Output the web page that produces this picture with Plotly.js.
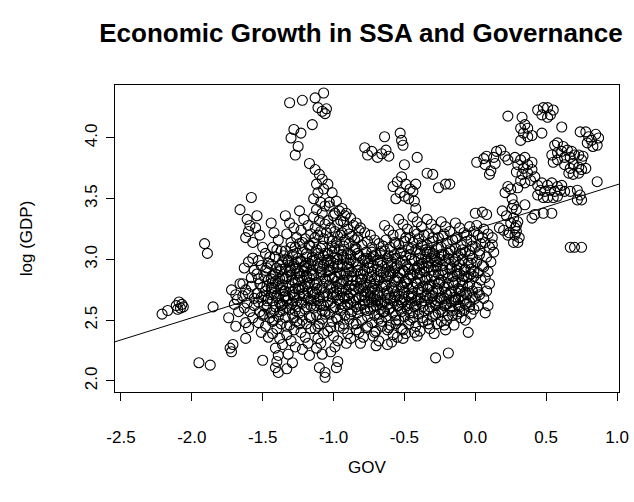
<!DOCTYPE html>
<html>
<head>
<meta charset="utf-8">
<script src="https://cdn.plot.ly/plotly-3.0.1.min.js"></script>
<style>
  html, body { margin: 0; padding: 0; background: #fff; }
  #chart { width: 634px; height: 502px; }
</style>
</head>
<body>
<div id="chart"></div>
<script>
// Country-year observations: [GOV, log(GDP)]
const leftTail = [
  [-2.21,2.55],[-2.17,2.58],[-2.11,2.62],[-2.09,2.65],[-2.08,2.60],[-2.07,2.63],[-2.06,2.61],[-2.10,2.59],
  [-1.91,3.13],[-1.89,3.05],[-1.85,2.61],[-1.95,2.15],[-1.87,2.13],
  [-1.74,2.52],[-1.73,2.27],[-1.72,2.24],[-1.72,2.75],[-1.70,2.63],[-1.69,2.71],[-1.68,2.67],[-1.67,2.57],
  [-1.66,3.41],[-1.66,2.80],[-1.69,2.45],[-1.71,2.30]
];

const govMinus16 = [
  [-1.58,3.51],[-1.61,3.33],[-1.59,3.28],[-1.55,3.26],[-1.60,3.23],[-1.62,3.18],[-1.57,3.14],[-1.60,2.98],
  [-1.57,3.01],[-1.56,2.91],[-1.63,2.93],[-1.64,2.80],[-1.62,2.75],[-1.60,2.72],[-1.58,2.78],[-1.56,2.68],
  [-1.61,2.64],[-1.63,2.60],[-1.59,2.57],[-1.57,2.52],[-1.62,2.48],[-1.60,2.44],[-1.62,2.35],[-1.56,2.62],
  [-1.64,2.70],[-1.58,2.85]
];

const govMinus15 = [
  [-1.54,3.36],[-1.52,3.20],[-1.50,3.10],[-1.48,3.05],[-1.53,2.99],[-1.51,2.95],[-1.47,2.93],[-1.54,2.88],
  [-1.49,2.86],[-1.46,2.83],[-1.52,2.80],[-1.50,2.77],[-1.48,2.74],[-1.54,2.72],[-1.51,2.69],[-1.46,2.68],
  [-1.53,2.65],[-1.49,2.62],[-1.47,2.60],[-1.52,2.57],[-1.50,2.54],[-1.45,2.52],[-1.53,2.48],[-1.48,2.45],
  [-1.51,2.40],[-1.46,2.36],[-1.50,2.17],[-1.49,2.70],[-1.47,2.78],[-1.53,2.84]
];

const govMinus14 = [
  [-1.44,3.30],[-1.42,3.22],[-1.39,3.16],[-1.43,3.10],[-1.37,3.07],[-1.41,3.02],[-1.36,2.98],[-1.44,2.96],
  [-1.40,2.93],[-1.38,2.90],[-1.43,2.87],[-1.36,2.85],[-1.41,2.82],[-1.39,2.80],[-1.44,2.77],[-1.37,2.75],
  [-1.42,2.72],[-1.40,2.70],[-1.35,2.69],[-1.43,2.66],[-1.38,2.64],[-1.41,2.61],[-1.36,2.58],[-1.44,2.56],
  [-1.39,2.53],[-1.42,2.50],[-1.37,2.47],[-1.40,2.43],[-1.43,2.39],[-1.38,2.35],[-1.41,2.27],[-1.39,2.21],
  [-1.40,2.16],[-1.41,2.11],[-1.39,2.07],[-1.36,2.30],[-1.44,2.84],[-1.37,2.92]
];

const govMinus13 = [
  [-1.34,3.36],[-1.31,3.30],[-1.28,3.26],[-1.33,3.21],[-1.26,3.18],[-1.30,3.14],[-1.27,3.10],[-1.34,3.07],
  [-1.29,3.04],[-1.25,3.01],[-1.32,2.98],[-1.28,2.96],[-1.34,2.93],[-1.30,2.91],[-1.26,2.88],[-1.33,2.86],
  [-1.29,2.83],[-1.27,2.81],[-1.31,2.78],[-1.25,2.76],[-1.34,2.74],[-1.28,2.71],[-1.32,2.68],[-1.26,2.66],
  [-1.30,2.63],[-1.33,2.60],[-1.27,2.58],[-1.29,2.55],[-1.34,2.52],[-1.26,2.49],[-1.31,2.46],[-1.28,2.42],
  [-1.33,2.38],[-1.30,2.33],[-1.27,2.28],[-1.32,2.22],[-1.29,2.15],[-1.33,2.10],[-1.31,2.90],[-1.27,2.93]
];

const govMinus12 = [
  [-1.24,3.40],[-1.21,3.33],[-1.18,3.28],[-1.23,3.24],[-1.16,3.21],[-1.20,3.17],[-1.24,3.13],[-1.17,3.11],
  [-1.22,3.08],[-1.19,3.05],[-1.15,3.02],[-1.23,2.99],[-1.18,2.97],[-1.21,2.94],[-1.16,2.91],[-1.24,2.89],
  [-1.19,2.86],[-1.22,2.83],[-1.17,2.81],[-1.20,2.78],[-1.24,2.75],[-1.15,2.73],[-1.21,2.70],[-1.18,2.68],
  [-1.23,2.65],[-1.16,2.62],[-1.20,2.59],[-1.24,2.56],[-1.17,2.53],[-1.22,2.50],[-1.19,2.47],[-1.16,2.43],
  [-1.23,2.40],[-1.20,2.36],[-1.18,2.31],[-1.22,2.26],[-1.17,2.21],[-1.19,2.86],[-1.21,2.72],[-1.16,2.96]
];

const govMinus11 = [
  [-1.13,3.74],[-1.10,3.70],[-1.08,3.66],[-1.12,3.62],[-1.07,3.58],[-1.11,3.55],[-1.14,3.50],[-1.09,3.47],
  [-1.06,3.44],[-1.12,3.41],[-1.08,3.38],[-1.14,3.35],[-1.10,3.32],[-1.06,3.29],[-1.13,3.26],[-1.09,3.23],
  [-1.11,3.20],[-1.07,3.17],[-1.14,3.14],[-1.08,3.11],[-1.12,3.08],[-1.06,3.05],[-1.10,3.02],[-1.13,2.99],
  [-1.07,2.96],[-1.11,2.93],[-1.09,2.90],[-1.14,2.87],[-1.06,2.84],[-1.12,2.81],[-1.08,2.78],[-1.10,2.75],
  [-1.13,2.72],[-1.07,2.69],[-1.11,2.66],[-1.09,2.63],[-1.14,2.60],[-1.06,2.57],[-1.12,2.54],[-1.08,2.51],
  [-1.10,2.47],[-1.13,2.43],[-1.07,2.39],[-1.11,2.35],[-1.09,2.31],[-1.12,2.27],[-1.08,2.22],[-1.10,2.11],
  [-1.06,2.07],[-1.06,2.03]
];

const govMinus10 = [
  [-1.04,3.62],[-1.01,3.55],[-0.98,3.48],[-1.03,3.44],[-0.96,3.40],[-1.00,3.36],[-1.04,3.32],[-0.97,3.29],
  [-1.02,3.26],[-0.99,3.23],[-0.95,3.20],[-1.03,3.17],[-0.98,3.14],[-1.01,3.11],[-0.96,3.08],[-1.04,3.05],
  [-0.99,3.02],[-1.02,2.99],[-0.97,2.96],[-1.00,2.93],[-1.04,2.90],[-0.95,2.88],[-1.01,2.85],[-0.98,2.82],
  [-1.03,2.79],[-0.96,2.76],[-1.00,2.73],[-1.04,2.70],[-0.97,2.67],[-1.02,2.64],[-0.99,2.61],[-0.95,2.58],
  [-1.03,2.55],[-0.98,2.52],[-1.01,2.49],[-0.96,2.45],[-1.04,2.41],[-1.00,2.37],[-0.97,2.33],[-0.99,2.28],
  [-0.97,2.16],[-0.98,2.11],[-1.02,2.24],[-1.03,2.95],[-0.97,3.00]
];

const govMinus09 = [
  [-0.94,3.42],[-0.91,3.38],[-0.88,3.34],[-0.93,3.31],[-0.86,3.28],[-0.90,3.25],[-0.94,3.22],[-0.87,3.19],
  [-0.92,3.16],[-0.89,3.13],[-0.85,3.10],[-0.93,3.07],[-0.88,3.04],[-0.91,3.01],[-0.86,2.98],[-0.94,2.95],
  [-0.89,2.92],[-0.92,2.89],[-0.87,2.86],[-0.90,2.83],[-0.94,2.80],[-0.85,2.78],[-0.91,2.75],[-0.88,2.72],
  [-0.93,2.69],[-0.86,2.66],[-0.90,2.63],[-0.94,2.60],[-0.87,2.57],[-0.92,2.54],[-0.89,2.51],[-0.86,2.47],
  [-0.93,2.43],[-0.90,2.39],[-0.88,2.35],[-0.91,2.31],[-0.89,2.78],[-0.92,2.68],[-0.87,2.90],[-0.90,3.05]
];

const govMinus08 = [
  [-0.84,3.30],[-0.81,3.26],[-0.78,3.22],[-0.83,3.18],[-0.76,3.15],[-0.80,3.12],[-0.84,3.09],[-0.77,3.06],
  [-0.82,3.03],[-0.79,3.00],[-0.75,2.97],[-0.83,2.94],[-0.78,2.91],[-0.81,2.88],[-0.76,2.85],[-0.84,2.82],
  [-0.79,2.79],[-0.82,2.76],[-0.77,2.73],[-0.80,2.70],[-0.84,2.67],[-0.75,2.65],[-0.81,2.62],[-0.78,2.59],
  [-0.83,2.56],[-0.76,2.53],[-0.80,2.50],[-0.84,2.47],[-0.77,2.44],[-0.82,2.40],[-0.79,2.36],[-0.81,2.31],
  [-0.80,2.84],[-0.78,2.69]
];

const govMinus07 = [
  [-0.74,3.20],[-0.71,3.16],[-0.68,3.13],[-0.73,3.10],[-0.66,3.07],[-0.70,3.04],[-0.74,3.01],[-0.67,2.98],
  [-0.72,2.95],[-0.69,2.92],[-0.65,2.89],[-0.73,2.86],[-0.68,2.83],[-0.71,2.80],[-0.66,2.77],[-0.74,2.74],
  [-0.69,2.71],[-0.72,2.68],[-0.67,2.65],[-0.70,2.62],[-0.74,2.59],[-0.65,2.57],[-0.71,2.54],[-0.68,2.51],
  [-0.73,2.48],[-0.66,2.45],[-0.70,2.41],[-0.72,2.37],[-0.68,2.33],[-0.70,2.29],[-0.71,2.75],[-0.69,2.66],
  [-0.73,2.90]
];

const govMinus06 = [
  [-0.64,3.28],[-0.61,3.24],[-0.58,3.20],[-0.63,3.16],[-0.56,3.13],[-0.60,3.10],[-0.64,3.07],[-0.57,3.04],
  [-0.62,3.01],[-0.59,2.98],[-0.55,2.95],[-0.63,2.92],[-0.58,2.89],[-0.61,2.86],[-0.56,2.83],[-0.64,2.80],
  [-0.59,2.77],[-0.62,2.74],[-0.57,2.71],[-0.60,2.68],[-0.64,2.65],[-0.55,2.62],[-0.61,2.59],[-0.58,2.56],
  [-0.63,2.53],[-0.56,2.50],[-0.60,2.46],[-0.62,2.42],[-0.58,2.38],[-0.62,2.30],[-0.59,2.32],[-0.55,2.36],
  [-0.60,2.88],[-0.57,2.93]
];

const govMinus05 = [
  [-0.54,3.33],[-0.51,3.29],[-0.48,3.25],[-0.53,3.21],[-0.46,3.18],[-0.50,3.15],[-0.54,3.12],[-0.47,3.09],
  [-0.52,3.06],[-0.49,3.03],[-0.45,3.00],[-0.53,2.97],[-0.48,2.94],[-0.51,2.91],[-0.46,2.88],[-0.54,2.85],
  [-0.49,2.82],[-0.52,2.79],[-0.47,2.76],[-0.50,2.73],[-0.54,2.70],[-0.45,2.68],[-0.51,2.65],[-0.48,2.62],
  [-0.53,2.59],[-0.46,2.56],[-0.50,2.53],[-0.54,2.50],[-0.47,2.47],[-0.52,2.43],[-0.49,2.39],[-0.51,2.35],
  [-0.50,2.90],[-0.48,2.80]
];

const govMinus04 = [
  [-0.44,3.35],[-0.41,3.31],[-0.38,3.27],[-0.43,3.23],[-0.36,3.20],[-0.40,3.17],[-0.44,3.14],[-0.37,3.11],
  [-0.42,3.08],[-0.39,3.05],[-0.35,3.02],[-0.43,2.99],[-0.38,2.96],[-0.41,2.93],[-0.36,2.90],[-0.44,2.87],
  [-0.39,2.84],[-0.42,2.81],[-0.37,2.78],[-0.40,2.75],[-0.44,2.72],[-0.35,2.70],[-0.41,2.67],[-0.38,2.64],
  [-0.43,2.61],[-0.36,2.58],[-0.40,2.55],[-0.44,2.52],[-0.37,2.49],[-0.42,2.45],[-0.39,2.41],[-0.41,2.37],
  [-0.40,2.95],[-0.38,3.00]
];

const govMinus03 = [
  [-0.34,3.33],[-0.31,3.29],[-0.28,3.25],[-0.33,3.21],[-0.26,3.18],[-0.30,3.15],[-0.34,3.12],[-0.27,3.09],
  [-0.32,3.06],[-0.29,3.03],[-0.25,3.00],[-0.33,2.97],[-0.28,2.94],[-0.31,2.91],[-0.26,2.88],[-0.34,2.85],
  [-0.29,2.82],[-0.32,2.79],[-0.27,2.76],[-0.30,2.73],[-0.34,2.70],[-0.25,2.68],[-0.31,2.65],[-0.28,2.62],
  [-0.33,2.59],[-0.26,2.56],[-0.30,2.53],[-0.34,2.50],[-0.27,2.47],[-0.32,2.43],[-0.29,2.39],[-0.28,2.19],
  [-0.30,3.05],[-0.27,2.98]
];

const govMinus02 = [
  [-0.24,3.31],[-0.21,3.27],[-0.18,3.23],[-0.23,3.19],[-0.16,3.16],[-0.20,3.13],[-0.24,3.10],[-0.17,3.07],
  [-0.22,3.04],[-0.19,3.01],[-0.15,2.98],[-0.23,2.95],[-0.18,2.92],[-0.21,2.89],[-0.16,2.86],[-0.24,2.83],
  [-0.19,2.80],[-0.22,2.77],[-0.17,2.74],[-0.20,2.71],[-0.24,2.68],[-0.15,2.66],[-0.21,2.63],[-0.18,2.60],
  [-0.23,2.57],[-0.16,2.54],[-0.20,2.50],[-0.22,2.46],[-0.19,2.23],[-0.21,2.42]
];

const govMinus01 = [
  [-0.14,3.30],[-0.11,3.26],[-0.08,3.22],[-0.13,3.18],[-0.06,3.15],[-0.10,3.12],[-0.14,3.09],[-0.07,3.06],
  [-0.12,3.03],[-0.09,3.00],[-0.05,2.97],[-0.13,2.94],[-0.08,2.91],[-0.11,2.88],[-0.06,2.85],[-0.14,2.82],
  [-0.09,2.79],[-0.12,2.76],[-0.07,2.73],[-0.10,2.70],[-0.14,2.67],[-0.06,2.64],[-0.11,2.61],[-0.08,2.58],
  [-0.13,2.55],[-0.05,2.40],[-0.10,2.52]
];

const govZero = [
  [-0.04,3.27],[-0.01,3.23],[0.02,3.20],[-0.03,3.16],[0.04,3.13],[0.00,3.10],[-0.04,3.07],[0.03,3.04],
  [-0.02,3.01],[0.01,2.98],[0.05,2.95],[-0.03,2.92],[0.02,2.89],[-0.01,2.86],[0.04,2.83],[-0.04,2.80],
  [0.01,2.77],[-0.02,2.74],[0.03,2.71],[0.00,2.68],[-0.04,2.65],[0.02,2.62],[-0.01,2.59],[0.05,3.18],
  [0.01,3.28],[0.00,3.38],[0.05,3.39],[0.08,3.37],
  [0.06,3.25],[0.09,3.21],[0.12,3.18],[0.07,3.14],[0.10,3.10],[0.13,3.06],[0.08,3.02],[0.11,2.98],
  [0.06,2.94],[0.09,2.90],[0.07,2.85],[0.10,2.80],[0.08,2.74],[0.06,2.68],[0.09,2.62],[0.07,2.56],[0.12,3.12]
];

// Dense core of the cloud, west to east
const coreWest = [
  [-1.48,2.91],[-1.46,2.97],[-1.43,2.81],[-1.41,2.88],[-1.38,2.95],[-1.36,2.79],[-1.34,2.84],[-1.32,2.99],
  [-1.30,2.87],[-1.29,2.73],[-1.27,2.92],[-1.25,2.83],[-1.23,2.98],[-1.22,2.77],[-1.21,2.90],
  [-1.47,2.66],[-1.44,2.71],[-1.42,2.58],[-1.39,2.68],[-1.37,2.62],[-1.35,2.74],[-1.33,2.66],[-1.31,2.59],
  [-1.28,2.69],[-1.26,2.61],[-1.24,2.70],[-1.22,2.64],
  [-1.45,3.02],[-1.40,3.08],[-1.35,3.03],[-1.30,3.10],[-1.26,3.05],[-1.22,3.14],
  [-1.49,2.55],[-1.43,2.49],[-1.38,2.57],[-1.33,2.45],[-1.28,2.52],[-1.24,2.47]
];

const coreMid = [
  [-1.19,2.93],[-1.17,2.85],[-1.15,2.99],[-1.13,2.79],[-1.11,2.96],[-1.09,2.87],[-1.07,3.03],[-1.05,2.82],
  [-1.03,2.91],[-1.01,3.06],[-0.99,2.86],[-0.97,2.94],[-0.95,2.80],[-0.93,3.02],[-0.91,2.88],[-0.89,2.97],
  [-0.87,2.83],[-0.85,3.08],[-0.83,2.91],[-0.81,2.78],
  [-1.18,2.74],[-1.16,2.67],[-1.14,2.71],[-1.12,2.62],[-1.10,2.69],[-1.08,2.58],[-1.06,2.73],[-1.04,2.65],
  [-1.02,2.76],[-1.00,2.60],[-0.98,2.71],[-0.96,2.66],[-0.94,2.74],[-0.92,2.62],[-0.90,2.70],[-0.88,2.64],
  [-0.86,2.75],[-0.84,2.61],[-0.82,2.69],
  [-1.17,3.12],[-1.13,3.18],[-1.09,3.09],[-1.05,3.22],[-1.01,3.15],[-0.97,3.19],[-0.93,3.11],[-0.89,3.21],
  [-0.85,3.16],[-0.82,3.24],
  [-1.16,2.52],[-1.11,2.45],[-1.06,2.55],[-1.02,2.44],[-0.97,2.51],[-0.93,2.47],[-0.88,2.55],[-0.84,2.42],
  [-0.99,3.38],[-0.95,3.32],[-0.92,3.36],[-1.03,3.47]
];

const coreEast = [
  [-0.79,2.88],[-0.77,2.79],[-0.75,2.93],[-0.73,2.76],[-0.71,2.84],[-0.69,2.73],[-0.67,2.90],[-0.65,2.78],
  [-0.63,2.86],[-0.61,2.71],[-0.59,2.95],[-0.57,2.82],[-0.55,2.74],[-0.53,2.89],[-0.51,2.77],[-0.49,2.96],
  [-0.47,2.84],[-0.45,2.71],[-0.43,2.92],[-0.41,2.80],
  [-0.78,2.66],[-0.76,2.58],[-0.74,2.70],[-0.72,2.61],[-0.70,2.67],[-0.68,2.55],[-0.66,2.63],[-0.64,2.57],
  [-0.62,2.68],[-0.60,2.60],[-0.58,2.66],[-0.56,2.54],[-0.54,2.62],[-0.52,2.57],[-0.50,2.67],[-0.48,2.59],
  [-0.46,2.64],[-0.44,2.56],[-0.42,2.62],
  [-0.77,3.01],[-0.73,3.06],[-0.69,2.99],[-0.65,3.11],[-0.61,3.03],[-0.57,3.14],[-0.53,3.05],[-0.49,3.18],
  [-0.45,3.09],[-0.41,3.21],
  [-0.76,2.45],[-0.71,2.40],[-0.66,2.49],[-0.61,2.44],[-0.56,2.47],[-0.51,2.42],[-0.46,2.50],[-0.43,2.40],
  [-0.39,2.89],[-0.37,2.97],[-0.35,2.83],[-0.33,2.94],[-0.31,3.01],[-0.29,2.87],[-0.27,2.95],[-0.25,2.81],
  [-0.23,2.91],[-0.21,2.99],[-0.19,2.85],[-0.17,2.93],[-0.15,2.79],[-0.13,2.88],[-0.11,2.96],[-0.09,2.83],
  [-0.07,2.92],[-0.05,2.86],[-0.03,2.97],[-0.01,2.90],
  [-0.38,2.73],[-0.36,2.66],[-0.34,2.76],[-0.32,2.61],[-0.30,2.70],[-0.28,2.64],[-0.26,2.74],[-0.24,2.59],
  [-0.22,2.68],[-0.20,2.63],[-0.18,2.72],[-0.16,2.58],[-0.14,2.69],[-0.12,2.62],[-0.10,2.74],[-0.08,2.66],
  [-0.06,2.71],[-0.04,2.61],[-0.02,2.69],[0.02,2.73],
  [-0.38,3.12],[-0.34,3.06],[-0.30,3.18],[-0.26,3.10],[-0.22,3.21],[-0.18,3.08],[-0.14,3.17],[-0.10,3.05],
  [-0.06,3.20],[-0.02,3.11],[0.03,3.07],
  [-0.37,2.52],[-0.33,2.47],[-0.28,2.55],[-0.24,2.49],[-0.19,2.54],[-0.15,2.46],[-0.11,2.57],[-0.07,2.50],
  [-0.03,2.55]
];

const coreCentre = [
  [-1.42,2.76],[-1.38,2.84],[-1.34,2.70],[-1.31,2.95],[-1.27,2.76],[-1.24,2.86],[-1.20,2.95],[-1.18,2.80],
  [-1.15,2.88],[-1.12,2.76],[-1.08,2.92],[-1.05,2.99],[-1.03,2.86],[-1.00,2.97],[-0.98,2.77],[-0.96,2.89],
  [-0.93,2.83],[-0.90,2.94],[-0.87,2.79],[-0.84,2.96],[-0.81,2.83],[-0.79,2.74],[-0.76,2.97],[-0.74,2.81],
  [-0.71,2.70],[-0.69,2.86],[-0.66,2.95],[-0.63,2.79],[-0.61,2.90],[-0.58,2.74],[-0.55,2.85],[-0.53,2.67],
  [-0.50,2.81],[-0.47,2.92],[-0.44,2.77],[-0.41,2.88],[-0.39,2.68],[-0.36,2.93],[-0.33,2.78],[-0.31,2.86],
  [-0.28,2.99],[-0.26,2.80],[-0.23,2.87],[-0.21,2.73],[-0.18,2.96],[-0.16,2.81],[-0.13,2.91],[-0.11,2.74],
  [-0.08,2.86],[-0.05,2.78],[-0.03,2.88],
  [-1.36,2.63],[-1.29,2.64],[-1.19,2.61],[-1.14,2.66],[-1.07,2.62],[-1.01,2.69],[-0.95,2.63],[-0.89,2.68],
  [-0.83,2.59],[-0.79,2.63],[-0.73,2.65],[-0.67,2.59],[-0.62,2.63],[-0.57,2.69],[-0.52,2.64],[-0.47,2.70],
  [-0.42,2.66],[-0.37,2.61],[-0.32,2.68],[-0.27,2.66],[-0.22,2.62],[-0.17,2.65],[-0.12,2.67],[-0.07,2.63],
  [-1.33,3.00],[-1.26,2.98],[-1.19,3.02],[-1.11,3.05],[-1.04,3.00],[-0.99,3.09],[-0.94,3.04],[-0.88,3.00],
  [-0.83,3.05],[-0.78,2.99],[-0.72,3.03],[-0.67,3.05],[-0.62,2.97],[-0.56,3.01],[-0.51,2.99],[-0.46,3.04],
  [-0.40,3.01],[-0.35,3.08],[-0.29,3.00],[-0.24,3.04],[-0.19,3.05],[-0.14,3.00],[-0.09,3.08],[-0.04,3.03]
];

// Upper groups above the main cloud
const upperMiddle = [
  [-1.31,4.29],[-1.22,4.31],[-1.13,4.33],[-1.07,4.37],[-1.11,4.25],[-1.08,4.22],[-1.05,4.24],[-1.06,4.20],
  [-1.15,4.11],[-1.28,4.07],[-1.23,4.04],[-1.30,4.00],[-1.25,3.93],[-1.27,3.86],[-1.17,3.79],
  [-0.78,3.92],[-0.76,3.86],[-0.73,3.89],[-0.69,3.84],[-0.66,3.87],[-0.63,3.90],[-0.61,3.85],[-0.64,4.01],
  [-0.53,4.04],[-0.52,3.98],[-0.51,3.94],[-0.50,3.78],[-0.41,3.84],
  [-0.58,3.60],[-0.55,3.64],[-0.52,3.68],[-0.49,3.62],[-0.46,3.58],[-0.53,3.55],[-0.50,3.52],[-0.47,3.50],
  [-0.44,3.56],[-0.42,3.62],[-0.56,3.50],[-0.43,3.48],
  [-0.34,3.71],[-0.30,3.70],[-0.26,3.59],[-0.21,3.62],[-0.18,3.62],[-0.42,3.42],
  [0.01,3.80],[0.07,3.78],[0.08,3.85],[0.13,3.84],[0.15,3.89],[0.18,3.90],[0.21,3.85],[0.14,3.79],
  [0.11,3.73],[0.23,3.82],[0.06,3.83],[0.10,3.70]
];

const upperRight = [
  [0.17,3.26],[0.20,3.24],[0.24,3.22],[0.27,3.14],[0.23,3.20],[0.25,3.30],[0.22,3.36],[0.19,3.40],
  [0.21,3.55],[0.23,3.60],[0.25,3.58],[0.27,3.45],[0.26,3.50],[0.29,3.28],[0.28,3.20],[0.23,4.18],
  [0.26,3.42],[0.27,3.34],[0.28,3.26],
  [0.33,4.17],[0.35,4.11],[0.32,4.08],[0.34,4.04],[0.37,4.08],[0.37,4.01],[0.40,4.02],[0.32,3.98],
  [0.44,4.23],[0.48,4.25],[0.51,4.25],[0.51,4.17],[0.47,4.19],[0.53,4.19],[0.55,4.23],[0.61,4.09],[0.47,4.04],
  [0.74,4.05],[0.78,4.05],[0.80,4.01],[0.85,4.03],[0.82,3.98],[0.87,4.00],[0.79,3.96],[0.83,3.93],[0.86,3.94],
  [0.73,3.86],[0.76,3.85],[0.75,3.82],
  [0.56,3.94],[0.58,3.96],[0.62,3.93],[0.54,3.86],[0.58,3.88],[0.61,3.89],[0.65,3.90],[0.68,3.89],
  [0.55,3.80],[0.58,3.82],[0.63,3.84],[0.67,3.84],[0.70,3.86],[0.63,3.78],[0.67,3.75],[0.69,3.79],
  [0.73,3.76],[0.66,3.71],[0.69,3.70],[0.73,3.71],[0.75,3.74],[0.78,3.75],
  [0.28,3.84],[0.32,3.82],[0.35,3.84],[0.30,3.78],[0.34,3.75],[0.37,3.78],[0.40,3.80],[0.29,3.72],
  [0.33,3.70],[0.37,3.71],[0.40,3.74],[0.32,3.65],[0.35,3.63],[0.39,3.65],[0.42,3.68],[0.30,3.59],
  [0.44,3.61],[0.47,3.63],[0.51,3.61],[0.54,3.63],[0.58,3.60],[0.61,3.61],[0.46,3.57],[0.49,3.56],
  [0.53,3.57],[0.56,3.56],[0.60,3.57],[0.63,3.56],[0.48,3.51],[0.51,3.51],[0.55,3.51],[0.58,3.52],[0.44,3.53],
  [0.67,3.56],[0.72,3.57],[0.74,3.53],[0.75,3.49],[0.72,3.49],[0.86,3.64],
  [0.35,3.45],[0.42,3.37],[0.48,3.38],[0.54,3.38],[0.40,3.34],
  [0.29,3.41],[0.30,3.31],[0.29,3.23],[0.31,3.18],[0.30,3.14],
  [0.67,3.10],[0.70,3.10],[0.75,3.10]
];

// Fitted OLS line
const fitIntercept = 3.25;
const fitSlope = 0.365;

const groups = [leftTail, govMinus16, govMinus15, govMinus14, govMinus13, govMinus12, govMinus11,
  govMinus10, govMinus09, govMinus08, govMinus07, govMinus06, govMinus05, govMinus04, govMinus03,
  govMinus02, govMinus01, govZero, coreWest, coreMid, coreEast, coreCentre, upperMiddle, upperRight];
const points = groups.flat();
const gov = points.map(p => p[0]);
const lgdp = points.map(p => p[1]);

const xTicks = [-2.5, -2.0, -1.5, -1.0, -0.5, 0.0, 0.5, 1.0];
const yTicks = [2.0, 2.5, 3.0, 3.5, 4.0];
const fmt = v => v.toFixed(1);

const fitX = [-2.6, 1.1];
const fitY = fitX.map(x => fitIntercept + fitSlope * x);

const font = 'Liberation Sans, Arial, Helvetica, sans-serif';

const traces = [
  {
    type: 'scatter', mode: 'markers', x: gov, y: lgdp,
    marker: { symbol: 'circle-open', size: 10, color: '#000', line: { width: 1.1, color: '#000' } },
    hoverinfo: 'x+y', showlegend: false
  },
  {
    type: 'scatter', mode: 'lines', x: fitX, y: fitY,
    line: { color: '#000', width: 1 }, hoverinfo: 'skip', showlegend: false
  }
];

const layout = {
  width: 634, height: 502,
  margin: { l: 115, r: 15, t: 85, b: 110 },
  paper_bgcolor: '#fff', plot_bgcolor: '#fff',
  showlegend: false,
  title: {
    text: 'Economic Growth in SSA and Governance',
    font: { family: font, size: 26, color: '#000', weight: 'bold' },
    x: 361 / 634, xref: 'container', xanchor: 'center',
    y: 1 - 33 / 502, yref: 'container', yanchor: 'middle'
  },
  xaxis: {
    range: [-2.542, 1.014], tickvals: xTicks, ticktext: xTicks.map(fmt),
    showgrid: false, zeroline: false,
    showline: true, mirror: true, linecolor: '#000', linewidth: 1,
    ticks: 'outside', ticklen: 8, tickwidth: 1, tickcolor: '#000',
    ticklabelstandoff: 22,
    tickfont: { family: font, size: 17, color: '#000' },
    title: { text: 'GOV', font: { family: font, size: 17, color: '#000' }, standoff: 14 }
  },
  yaxis: {
    range: [1.909, 4.436], tickvals: yTicks, ticktext: yTicks.map(fmt),
    showgrid: false, zeroline: false,
    showline: true, mirror: true, linecolor: '#000', linewidth: 1,
    ticks: 'outside', ticklen: 8, tickwidth: 1, tickcolor: '#000',
    tickangle: -90, ticklabelstandoff: 2,
    tickfont: { family: font, size: 17, color: '#000' },
    title: { text: 'log (GDP)', font: { family: font, size: 17, color: '#000' }, standoff: 45 }
  }
};

Plotly.newPlot('chart', traces, layout, { staticPlot: true, displayModeBar: false });
</script>
</body>
</html>
